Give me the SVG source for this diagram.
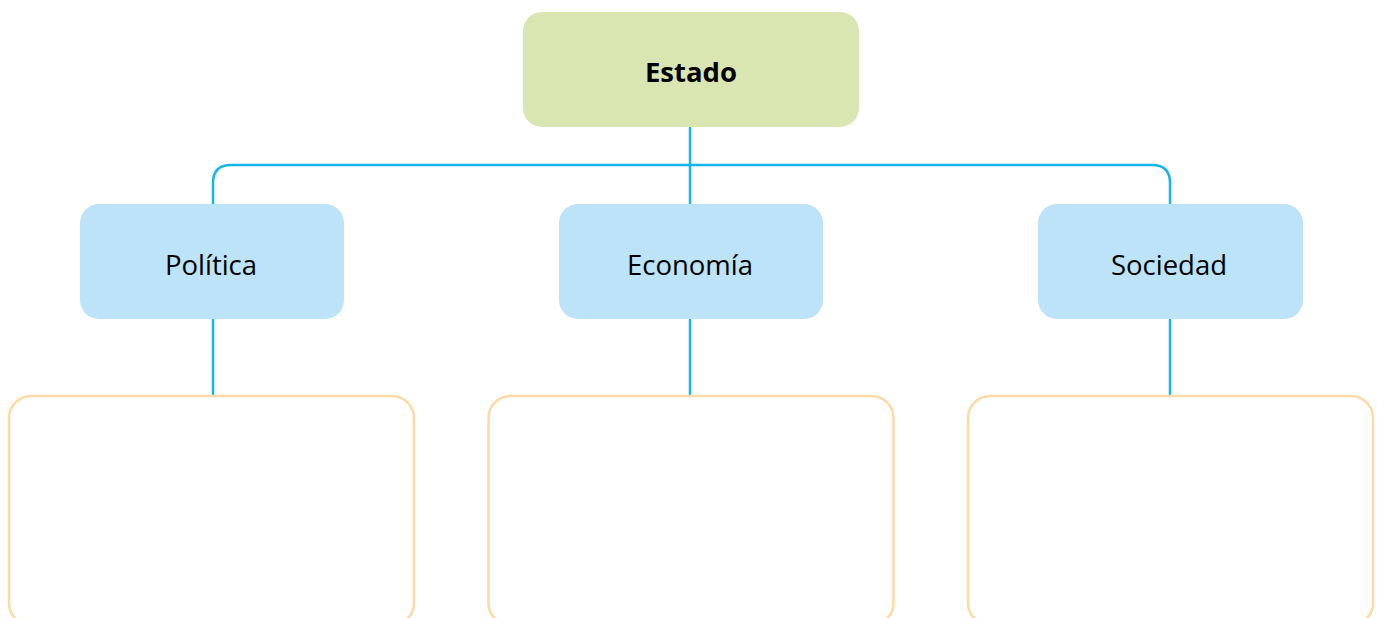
<svg xmlns="http://www.w3.org/2000/svg" width="1377" height="618" viewBox="0 0 1377 618">
<style>
.lbl{font-family:"Open Sans","Liberation Sans",sans-serif;font-size:27.5px;fill:#000;text-anchor:middle;dominant-baseline:central}
.top{fill:#DAE6B2}
.mid{fill:#BDE3F8}
.box{fill:#fff;stroke:#FFD9A6;stroke-width:2.5}
.con{fill:none;stroke:#12B6E8;stroke-width:2.5}
</style>
<rect width="1377" height="618" fill="#fff"/>
<g id="connectors">
<path class="con" d="M690 127V204"/>
<path class="con" d="M213 204V183Q213 165 231 165H1152Q1170 165 1170 183V204"/>
<path class="con" d="M213 319V396"/>
<path class="con" d="M690 319V396"/>
<path class="con" d="M1170 319V396"/>
</g>
<g id="estado"><rect class="top" x="523" y="12" width="336" height="115" rx="19"/><text class="lbl" x="691" y="71" font-weight="bold" font-size="26.5">Estado</text></g>
<g id="politica"><rect class="mid" x="80" y="204" width="264" height="115" rx="19"/><text class="lbl" x="211" y="264">Política</text></g>
<g id="economia"><rect class="mid" x="559" y="204" width="264" height="115" rx="19"/><text class="lbl" x="690" y="264">Economía</text></g>
<g id="sociedad"><rect class="mid" x="1038" y="204" width="265" height="115" rx="19"/><text class="lbl" x="1169" y="264">Sociedad</text></g>
<g id="box1"><rect class="box" x="9" y="396" width="405" height="229" rx="22"/></g>
<g id="box2"><rect class="box" x="488.5" y="396" width="405" height="229" rx="22"/></g>
<g id="box3"><rect class="box" x="968" y="396" width="405" height="229" rx="22"/></g>
</svg>
